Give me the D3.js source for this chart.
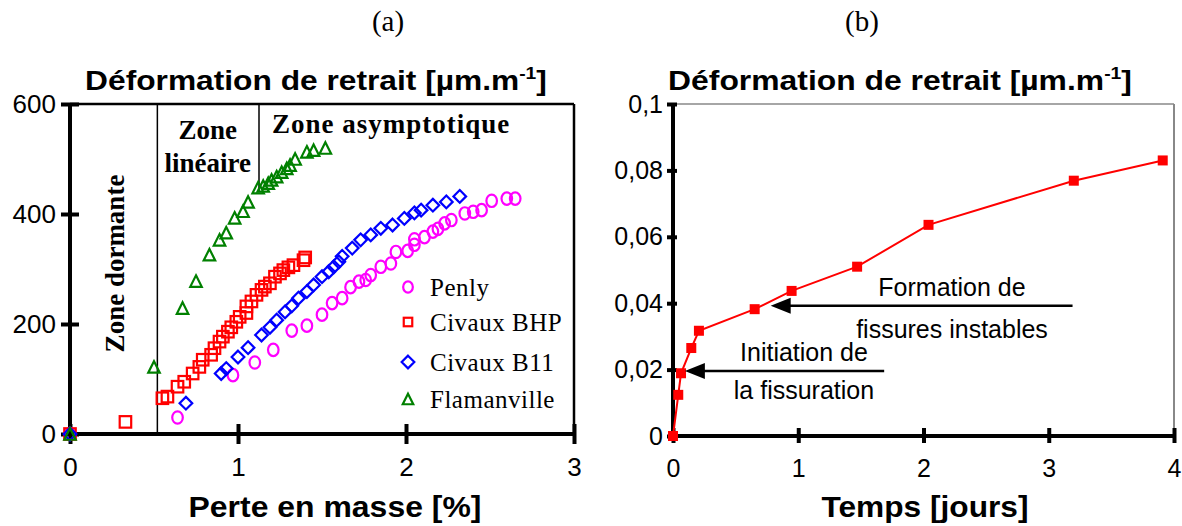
<!DOCTYPE html>
<html><head><meta charset="utf-8">
<script src="https://cdn.jsdelivr.net/npm/d3@7/dist/d3.min.js"></script>
<style>
html,body{margin:0;padding:0;background:#fff;}
svg{display:block;}
</style></head>
<body>
<svg id="chart" width="1182" height="526"></svg>
<script>
// ---------- DATA (a) ----------
const penlyX = [0, 0.64, 0.97, 1.10, 1.21, 1.32, 1.41, 1.50, 1.56, 1.62, 1.67, 1.72, 1.76, 1.79, 1.85, 1.91, 1.94, 2.01, 2.05, 2.05, 2.11, 2.16, 2.19, 2.23, 2.27, 2.35, 2.40, 2.45, 2.51, 2.60, 2.65];
const penlyY = [0, 30, 107, 130, 153, 188, 197, 217, 238, 247, 267, 277, 280, 289, 304, 310, 331, 333, 344, 354, 358, 368, 373, 383, 389, 401, 404, 407, 424, 428, 428];
const bhpX = [0, 0.33, 0.55, 0.58, 0.64, 0.68, 0.73, 0.77, 0.79, 0.84, 0.86, 0.89, 0.91, 0.94, 0.96, 0.99, 1.01, 1.05, 1.05, 1.08, 1.11, 1.14, 1.16, 1.19, 1.22, 1.25, 1.27, 1.30, 1.33, 1.39, 1.40];
const bhpY = [0, 22, 65, 68, 86, 95, 110, 122, 135, 144, 156, 168, 177, 186, 194, 204, 213, 220, 232, 241, 253, 262, 268, 274, 286, 292, 298, 303, 307, 316, 321];
const b11X = [0, 0.69, 0.90, 0.93, 1.00, 1.06, 1.14, 1.19, 1.23, 1.28, 1.32, 1.36, 1.41, 1.45, 1.50, 1.54, 1.57, 1.60, 1.62, 1.68, 1.73, 1.79, 1.85, 1.92, 1.99, 2.05, 2.09, 2.16, 2.24, 2.32];
const b11Y = [0, 56, 110, 119, 140, 157, 180, 194, 207, 222, 233, 247, 259, 271, 286, 295, 304, 313, 323, 338, 353, 362, 374, 380, 392, 402, 407, 416, 422, 432];
const flamX = [0, 0.50, 0.67, 0.75, 0.83, 0.89, 0.93, 0.98, 1.03, 1.06, 1.12, 1.15, 1.18, 1.20, 1.23, 1.26, 1.29, 1.31, 1.34, 1.41, 1.45, 1.52];
const flamY = [0, 122, 229, 278, 326, 353, 366, 393, 405, 422, 448, 451, 456, 462, 468, 476, 483, 489, 500, 513, 516, 520];
const seriesNames = ["Penly", "Civaux BHP", "Civaux B11", "Flamanville"];
const xTicksA = [0, 1, 2, 3];
const yTicksA = [0, 200, 400, 600];
const zoneBounds = [0.52, 1.125];   // boundaries between zones (% mass loss)
const zoneLabels = ["Zone dormante", "Zone", "linéaire", "Zone asymptotique"];

// ---------- DATA (b) ----------
const tempsX = [0, 0.042, 0.064, 0.146, 0.207, 0.652, 0.947, 1.47, 2.04, 3.20, 3.91];
const deformY = [0, 0.0124, 0.0189, 0.0265, 0.0317, 0.0382, 0.0437, 0.051, 0.0636, 0.0769, 0.083];
const xTicksB = [0, 1, 2, 3, 4];
const yTicksB = [0, 0.02, 0.04, 0.06, 0.08, 0.1];
const annotB = [
  {lines: ["Formation de", "fissures instables"], from: [3.19, 0.0392], to: [0.78, 0.0392]},
  {lines: ["Initiation de", "la fissuration"], from: [1.686, 0.0196], to: [0.095, 0.0196]}
];

const SANS = "'Liberation Sans', Arial, sans-serif";
const SERIF = "'Liberation Serif', 'Times New Roman', serif";
const svg = d3.select("#chart");

// stretch a centred text horizontally to a target width
function fitWidth(t, cx, y, w) {
  t.attr("x", 0).attr("y", 0).attr("text-anchor", "middle");
  const bw = t.node().getBBox().width;
  t.attr("transform", `translate(${cx},${y}) scale(${w / bw},1)`);
}

// ---------- Panel labels ----------
svg.append("text").attr("x", 388).attr("y", 31).attr("text-anchor", "middle")
  .style("font-family", SERIF).style("font-size", "29px").text("(a)");
svg.append("text").attr("x", 862).attr("y", 31).attr("text-anchor", "middle")
  .style("font-family", SERIF).style("font-size", "29px").text("(b)");

function title(cx, w) {
  const t = svg.append("text")
    .style("font-family", SANS).style("font-size", "28px").style("font-weight", "bold");
  t.append("tspan").text("Déformation de retrait [µm.m");
  t.append("tspan").attr("dy", -11).style("font-size", "17px").text("-1");
  t.append("tspan").attr("dy", 11).text("]");
  fitWidth(t, cx, 90, w);
}
title(316, 462);
title(900, 464);

// ---------- Chart (a) ----------
const xa = d3.scaleLinear().domain([0, 3]).range([70, 574]);
const ya = d3.scaleLinear().domain([0, 600]).range([434, 104]);
const ga = svg.append("g");

// frame top/right
ga.append("line").attr("x1", xa(0)).attr("x2", xa(3)).attr("y1", ya(600)).attr("y2", ya(600))
  .attr("stroke", "#000").attr("stroke-width", 2.5);
ga.append("line").attr("x1", xa(3)).attr("x2", xa(3)).attr("y1", ya(600)).attr("y2", ya(0))
  .attr("stroke", "#000").attr("stroke-width", 2.5);

// zone boundaries
ga.append("line").attr("x1", xa(zoneBounds[0])).attr("x2", xa(zoneBounds[0]))
  .attr("y1", ya(600)).attr("y2", ya(0)).attr("stroke", "#000").attr("stroke-width", 1.5);
ga.append("line").attr("x1", xa(zoneBounds[1])).attr("x2", xa(zoneBounds[1]))
  .attr("y1", ya(600)).attr("y2", ya(440)).attr("stroke", "#000").attr("stroke-width", 1.5);

// zone labels
ga.append("text").attr("transform", `translate(${xa(0.27)+9},${ya(310)}) rotate(-90)`)
  .attr("text-anchor", "middle").style("font-family", SERIF).style("font-size", "27px")
  .style("font-weight", "bold").text(zoneLabels[0]);
ga.append("text").attr("x", xa(0.82)).attr("y", 139).attr("text-anchor", "middle")
  .style("font-family", SERIF).style("font-size", "27px").style("font-weight", "bold").text(zoneLabels[1]);
ga.append("text").attr("x", xa(0.82)).attr("y", 172).attr("text-anchor", "middle")
  .style("font-family", SERIF).style("font-size", "27px").style("font-weight", "bold").text(zoneLabels[2]);
ga.append("text").attr("x", 272).attr("y", 133).attr("text-anchor", "start")
  .style("font-family", SERIF).style("font-size", "27px").style("font-weight", "bold")
  .style("letter-spacing", "1px").text(zoneLabels[3]);

// axes
const axA_y = ga.append("g").attr("transform", `translate(${xa(0)},0)`)
  .call(d3.axisLeft(ya).tickValues(yTicksA).tickSize(9).tickPadding(5).tickFormat(d3.format("d")));
const axA_x = ga.append("g").attr("transform", `translate(0,${ya(0)})`)
  .call(d3.axisBottom(xa).tickValues(xTicksA).tickSize(10).tickPadding(14).tickFormat(d3.format("d")));
[axA_y, axA_x].forEach(a => {
  a.select(".domain").attr("stroke", "#000").attr("stroke-width", 4);
  a.selectAll(".tick line").attr("stroke", "#000").attr("stroke-width", 4);
  a.selectAll(".tick text").style("font-family", SANS).style("font-size", "26px").attr("fill", "#000");
});
axA_y.selectAll(".tick line").attr("x1", 9);
axA_x.selectAll(".tick line").attr("y1", -10);
axA_x.select(".domain").attr("d", `M${xa(0)},0H${xa(3)}`);
axA_y.select(".domain").attr("d", `M0,${ya(0)}V${ya(600)}`);

// markers
function marker(sel, type, size, color) {
  const s = size;
  if (type === "circle") {
    sel.append("ellipse").attr("rx", s * 0.46).attr("ry", s * 0.54)
      .attr("fill", "none").attr("stroke", color).attr("stroke-width", 2.2);
  } else if (type === "square") {
    sel.append("rect").attr("x", -s / 2).attr("y", -s / 2).attr("width", s).attr("height", s)
      .attr("fill", "none").attr("stroke", color).attr("stroke-width", 2.2);
  } else if (type === "diamond") {
    const h = s * 0.55;
    sel.append("path").attr("d", `M0,${-h}L${h},0L0,${h}L${-h},0Z`)
      .attr("fill", "none").attr("stroke", color).attr("stroke-width", 2.2);
  } else {
    const h = s * 0.5;
    sel.append("path").attr("d", `M0,${-h}L${h},${h}L${-h},${h}Z`)
      .attr("fill", "none").attr("stroke", color).attr("stroke-width", 2.2);
  }
}
const seriesA = [
  {name: seriesNames[0], xs: penlyX, ys: penlyY, type: "circle", color: "#ff00ff"},
  {name: seriesNames[1], xs: bhpX, ys: bhpY, type: "square", color: "#ff0000"},
  {name: seriesNames[2], xs: b11X, ys: b11Y, type: "diamond", color: "#0000ff"},
  {name: seriesNames[3], xs: flamX, ys: flamY, type: "triangle", color: "#008000"}
];
seriesA.forEach(s => {
  const pts = s.xs.map((x, i) => [x, s.ys[i]]);
  ga.append("g").selectAll("g").data(pts).join("g")
    .attr("transform", d => `translate(${xa(d[0])},${ya(d[1])})`)
    .each(function () { marker(d3.select(this), s.type, 11.5, s.color); });
});

// legend
const legY = [287, 322, 362, 399];
seriesA.forEach((s, i) => {
  const g = ga.append("g").attr("transform", `translate(408,${legY[i]})`);
  marker(g, s.type, s.type === "square" ? 8.5 : (s.type === "diamond" ? 11.5 : 10.5), s.color);
  ga.append("text").attr("x", 430).attr("y", legY[i] + 9)
    .style("font-family", SERIF).style("font-size", "25px").style("letter-spacing", "0.5px")
    .text(s.name);
});

const xlabA = ga.append("text")
  .style("font-family", SANS).style("font-size", "29px").style("font-weight", "bold")
  .text("Perte en masse [%]");
fitWidth(xlabA, 335, 517, 293);

// ---------- Chart (b) ----------
const xb = d3.scaleLinear().domain([0, 4]).range([673, 1174]);
const yb = d3.scaleLinear().domain([0, 0.1]).range([436, 104]);
const gb = svg.append("g");

gb.append("line").attr("x1", xb(0)).attr("x2", xb(4)).attr("y1", yb(0.1)).attr("y2", yb(0.1))
  .attr("stroke", "#888").attr("stroke-width", 1.5);
gb.append("line").attr("x1", xb(4)).attr("x2", xb(4)).attr("y1", yb(0.1)).attr("y2", yb(0))
  .attr("stroke", "#888").attr("stroke-width", 2);

const fmtB = d => d === 0 ? "0" : String(+d.toFixed(2)).replace(".", ",");
const axB_y = gb.append("g").attr("transform", `translate(${xb(0)},0)`)
  .call(d3.axisLeft(yb).tickValues(yTicksB).tickSize(6).tickPadding(4).tickFormat(fmtB));
const axB_x = gb.append("g").attr("transform", `translate(0,${yb(0)})`)
  .call(d3.axisBottom(xb).tickValues(xTicksB).tickSize(7).tickPadding(16).tickFormat(d3.format("d")));
[axB_y, axB_x].forEach(a => {
  a.select(".domain").attr("stroke", "#000").attr("stroke-width", 4);
  a.selectAll(".tick line").attr("stroke", "#000").attr("stroke-width", 4);
  a.selectAll(".tick text").style("font-family", SANS).style("font-size", "25px").attr("fill", "#000");
});
axB_y.selectAll(".tick line").attr("x1", 4);
axB_x.selectAll(".tick line").attr("y1", -8);
axB_x.select(".domain").attr("d", `M${xb(0)},0H${xb(4)}`);
axB_y.select(".domain").attr("d", `M0,${yb(0)}V${yb(0.1)}`);

const ptsB = tempsX.map((x, i) => [x, deformY[i]]);
gb.append("path").datum(ptsB)
  .attr("d", d3.line().x(d => xb(d[0])).y(d => yb(d[1])))
  .attr("fill", "none").attr("stroke", "#ff0000").attr("stroke-width", 2);
gb.append("g").selectAll("rect").data(ptsB).join("rect")
  .attr("x", d => xb(d[0]) - 5).attr("y", d => yb(d[1]) - 5)
  .attr("width", 10).attr("height", 10).attr("fill", "#ff0000");

// annotations
annotB.forEach((a, i) => {
  const y = yb(a.from[1]);
  const x0 = xb(a.from[0]), x1 = xb(a.to[0]);
  gb.append("line").attr("x1", x0).attr("x2", x1 + 14).attr("y1", y).attr("y2", y)
    .attr("stroke", "#000").attr("stroke-width", 2.5);
  gb.append("path").attr("d", `M${x1},${y}L${x1 + 20},${y - 8}L${x1 + 20},${y + 8}Z`).attr("fill", "#000");
  const cx = i === 0 ? 952 : 804;
  gb.append("text").attr("x", cx).attr("y", y - 10).attr("text-anchor", "middle")
    .style("font-family", SANS).style("font-size", "25px").text(a.lines[0]);
  gb.append("text").attr("x", cx).attr("y", y + (i === 0 ? 32 : 28)).attr("text-anchor", "middle")
    .style("font-family", SANS).style("font-size", "25px").text(a.lines[1]);
});

const xlabB = gb.append("text")
  .style("font-family", SANS).style("font-size", "29px").style("font-weight", "bold")
  .text("Temps [jours]");
fitWidth(xlabB, 925, 517, 207);
</script>
</body></html>
